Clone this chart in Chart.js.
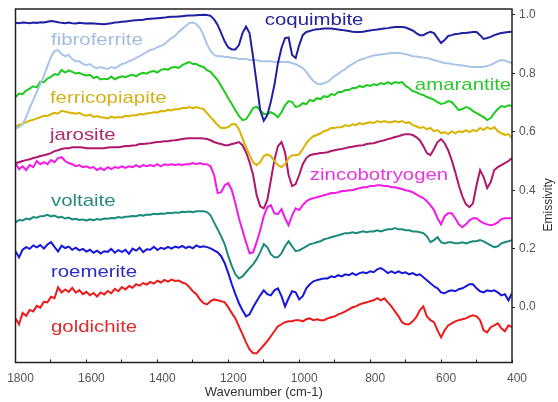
<!DOCTYPE html>
<html>
<head>
<meta charset="utf-8">
<script src="https://cdn.jsdelivr.net/npm/chart.js@4.4.1/dist/chart.umd.min.js"></script>
<style>
  html, body { margin: 0; padding: 0; background: #fff; }
  #wrap { width: 558px; height: 402px; position: relative; }
</style>
</head>
<body>
<div id="wrap"><canvas id="spectra"></canvas></div>
<script>
// wavenumber grid (cm-1), read every 10 cm-1
const wavenumbers = [
  1800,1790,1780,1770,1760,1750,1740,1730,1720,1710,
  1700,1690,1680,1670,1660,1650,1640,1630,1620,1610,
  1600,1590,1580,1570,1560,1550,1540,1530,1520,1510,
  1500,1490,1480,1470,1460,1450,1440,1430,1420,1410,
  1400,1390,1380,1370,1360,1350,1340,1330,1320,1310,
  1300,1290,1280,1270,1260,1250,1240,1230,1220,1210,
  1200,1190,1180,1170,1160,1150,1140,1130,1120,1110,
  1100,1090,1080,1070,1060,1050,1040,1030,1020,1010,
  1000,990,980,970,960,950,940,930,920,910,
  900,890,880,870,860,850,840,830,820,810,
  800,790,780,770,760,750,740,730,720,710,
  700,690,680,670,660,650,640,630,620,610,
  600,590,580,570,560,550,540,530,520,510,
  500,490,480,470,460,450,440,430,420,410,
  400
];

// emissivity (offset spectra), same order as wavenumbers
const coquimbite = [
  0.973,0.972,0.974,0.973,0.972,0.974,0.973,0.975,0.974,0.977,
  0.979,0.978,0.975,0.973,0.972,0.974,0.972,0.971,0.973,0.972,
  0.971,0.972,0.971,0.970,0.969,0.968,0.970,0.972,0.974,0.975,
  0.977,0.978,0.979,0.981,0.982,0.983,0.984,0.986,0.987,0.988,
  0.989,0.990,0.991,0.993,0.994,0.994,0.995,0.996,0.997,0.998,
  0.998,0.999,1.000,1.001,1.000,0.997,0.985,0.966,0.938,0.909,
  0.889,0.882,0.882,0.897,0.938,0.960,0.938,0.856,0.767,0.674,
  0.638,0.657,0.703,0.760,0.835,0.887,0.921,0.923,0.863,0.853,
  0.897,0.931,0.942,0.945,0.949,0.951,0.952,0.954,0.954,0.954,
  0.952,0.950,0.949,0.947,0.945,0.943,0.942,0.942,0.943,0.945,
  0.947,0.949,0.950,0.952,0.954,0.955,0.957,0.959,0.959,0.959,
  0.957,0.952,0.947,0.938,0.931,0.931,0.938,0.942,0.938,0.921,
  0.904,0.914,0.928,0.931,0.935,0.936,0.938,0.938,0.940,0.942,
  0.942,0.931,0.918,0.921,0.925,0.931,0.935,0.938,0.940,0.942,
  0.943
];
const fibroferrite = [
  0.612,0.616,0.626,0.650,0.681,0.709,0.736,0.763,0.791,0.825,
  0.856,0.877,0.880,0.866,0.859,0.863,0.849,0.842,0.842,0.832,
  0.829,0.832,0.822,0.818,0.822,0.818,0.815,0.822,0.818,0.825,
  0.832,0.835,0.842,0.846,0.853,0.859,0.866,0.873,0.880,0.883,
  0.890,0.894,0.900,0.911,0.921,0.928,0.942,0.952,0.962,0.973,
  0.974,0.969,0.955,0.931,0.900,0.877,0.863,0.859,0.859,0.856,
  0.856,0.853,0.853,0.849,0.849,0.849,0.846,0.846,0.846,0.842,
  0.842,0.842,0.842,0.839,0.839,0.839,0.839,0.839,0.835,0.832,
  0.825,0.818,0.805,0.788,0.774,0.765,0.763,0.767,0.771,0.781,
  0.791,0.798,0.808,0.815,0.825,0.832,0.839,0.846,0.849,0.854,
  0.858,0.861,0.863,0.865,0.866,0.868,0.870,0.870,0.870,0.868,
  0.866,0.863,0.859,0.858,0.856,0.854,0.853,0.849,0.846,0.842,
  0.839,0.835,0.835,0.832,0.830,0.829,0.827,0.825,0.823,0.822,
  0.822,0.822,0.823,0.825,0.829,0.835,0.842,0.846,0.844,0.839,
  0.835
];
const amarantite = [
  0.719,0.731,0.729,0.741,0.748,0.756,0.752,0.771,0.770,0.782,
  0.788,0.798,0.795,0.812,0.803,0.810,0.805,0.800,0.802,0.796,
  0.793,0.795,0.784,0.789,0.779,0.782,0.780,0.789,0.780,0.786,
  0.790,0.787,0.792,0.796,0.790,0.798,0.802,0.799,0.806,0.808,
  0.803,0.812,0.815,0.813,0.820,0.822,0.819,0.828,0.834,0.839,
  0.832,0.832,0.825,0.822,0.811,0.805,0.791,0.777,0.757,0.736,
  0.715,0.695,0.674,0.654,0.640,0.643,0.661,0.681,0.686,0.674,
  0.661,0.661,0.667,0.661,0.650,0.667,0.691,0.705,0.702,0.685,
  0.688,0.698,0.695,0.709,0.705,0.715,0.712,0.722,0.719,0.729,
  0.726,0.736,0.736,0.743,0.743,0.750,0.750,0.757,0.753,0.760,
  0.757,0.763,0.760,0.767,0.763,0.770,0.763,0.770,0.767,0.770,
  0.757,0.750,0.739,0.736,0.729,0.726,0.719,0.715,0.709,0.702,
  0.695,0.698,0.705,0.702,0.688,0.674,0.678,0.685,0.681,0.671,
  0.664,0.657,0.650,0.640,0.647,0.664,0.678,0.688,0.685,0.691,
  0.688
];
const ferricopiapite = [
  0.616,0.624,0.627,0.633,0.638,0.641,0.646,0.650,0.655,0.654,
  0.660,0.665,0.662,0.672,0.669,0.666,0.664,0.662,0.665,0.658,
  0.655,0.659,0.651,0.654,0.650,0.649,0.646,0.652,0.648,0.651,
  0.649,0.655,0.653,0.657,0.656,0.661,0.659,0.663,0.664,0.667,
  0.666,0.671,0.670,0.675,0.673,0.678,0.677,0.682,0.681,0.685,
  0.681,0.685,0.681,0.678,0.664,0.650,0.637,0.623,0.613,0.613,
  0.616,0.626,0.626,0.609,0.578,0.547,0.520,0.496,0.486,0.496,
  0.517,0.523,0.517,0.500,0.486,0.479,0.489,0.510,0.520,0.520,
  0.523,0.541,0.561,0.575,0.585,0.589,0.595,0.602,0.606,0.613,
  0.613,0.616,0.616,0.623,0.619,0.626,0.623,0.630,0.626,0.630,
  0.633,0.630,0.637,0.633,0.637,0.633,0.633,0.637,0.633,0.637,
  0.630,0.633,0.623,0.619,0.613,0.616,0.609,0.613,0.602,0.606,
  0.595,0.599,0.592,0.602,0.595,0.602,0.599,0.606,0.599,0.606,
  0.602,0.613,0.606,0.616,0.609,0.616,0.602,0.595,0.589,0.592,
  0.578
];
const jarosite = [
  0.493,0.496,0.500,0.503,0.506,0.510,0.513,0.517,0.520,0.523,
  0.527,0.534,0.537,0.541,0.544,0.544,0.547,0.547,0.547,0.546,
  0.544,0.544,0.544,0.544,0.544,0.544,0.546,0.547,0.547,0.547,
  0.549,0.551,0.551,0.553,0.554,0.558,0.558,0.560,0.561,0.563,
  0.565,0.566,0.568,0.568,0.570,0.571,0.573,0.575,0.577,0.578,
  0.578,0.578,0.578,0.577,0.575,0.571,0.565,0.561,0.558,0.554,
  0.554,0.558,0.561,0.565,0.554,0.530,0.496,0.452,0.383,0.345,
  0.338,0.366,0.434,0.503,0.551,0.565,0.530,0.452,0.414,0.421,
  0.452,0.489,0.510,0.520,0.523,0.525,0.527,0.528,0.530,0.534,
  0.537,0.539,0.541,0.544,0.547,0.549,0.551,0.553,0.554,0.558,
  0.560,0.561,0.565,0.568,0.571,0.575,0.578,0.582,0.585,0.589,
  0.592,0.592,0.589,0.582,0.571,0.551,0.527,0.520,0.541,0.565,
  0.575,0.561,0.537,0.503,0.462,0.417,0.379,0.352,0.342,0.355,
  0.417,0.469,0.445,0.407,0.428,0.469,0.479,0.486,0.493,0.500,
  0.510
];
const zincobotryogen = [
  0.493,0.472,0.482,0.469,0.486,0.479,0.500,0.489,0.496,0.489,
  0.503,0.496,0.510,0.513,0.500,0.493,0.489,0.482,0.486,0.479,
  0.482,0.476,0.479,0.469,0.476,0.469,0.479,0.472,0.479,0.476,
  0.482,0.476,0.482,0.479,0.486,0.479,0.486,0.482,0.486,0.482,
  0.489,0.482,0.489,0.486,0.489,0.486,0.489,0.486,0.489,0.489,
  0.493,0.489,0.493,0.489,0.489,0.482,0.452,0.390,0.393,0.417,
  0.424,0.400,0.355,0.304,0.263,0.222,0.184,0.187,0.222,0.263,
  0.311,0.342,0.349,0.321,0.318,0.335,0.304,0.280,0.314,0.338,
  0.332,0.349,0.362,0.369,0.373,0.376,0.379,0.383,0.386,0.390,
  0.390,0.393,0.397,0.397,0.400,0.400,0.404,0.407,0.410,0.410,
  0.414,0.414,0.417,0.417,0.414,0.414,0.410,0.410,0.407,0.404,
  0.400,0.397,0.393,0.386,0.379,0.373,0.362,0.349,0.332,0.304,
  0.283,0.311,0.321,0.321,0.304,0.283,0.273,0.283,0.297,0.304,
  0.304,0.294,0.287,0.283,0.280,0.283,0.290,0.301,0.304,0.304,
  0.304
];
const voltaite = [
  0.290,0.298,0.296,0.303,0.300,0.308,0.306,0.311,0.312,0.316,
  0.310,0.313,0.307,0.309,0.303,0.306,0.300,0.302,0.298,0.300,
  0.296,0.300,0.297,0.301,0.299,0.303,0.302,0.305,0.304,0.308,
  0.306,0.309,0.310,0.312,0.311,0.315,0.313,0.317,0.316,0.319,
  0.318,0.320,0.319,0.323,0.321,0.324,0.323,0.326,0.325,0.327,
  0.325,0.328,0.328,0.328,0.325,0.314,0.290,0.266,0.242,0.215,
  0.174,0.140,0.112,0.098,0.105,0.119,0.133,0.146,0.164,0.187,
  0.215,0.205,0.181,0.170,0.170,0.184,0.208,0.225,0.208,0.191,
  0.194,0.201,0.208,0.215,0.218,0.222,0.225,0.232,0.235,0.239,
  0.242,0.246,0.249,0.253,0.253,0.256,0.253,0.256,0.259,0.256,
  0.259,0.259,0.263,0.259,0.263,0.266,0.266,0.270,0.266,0.266,
  0.263,0.263,0.259,0.259,0.256,0.253,0.242,0.222,0.229,0.239,
  0.222,0.218,0.222,0.222,0.218,0.218,0.222,0.218,0.222,0.225,
  0.225,0.229,0.225,0.218,0.211,0.205,0.208,0.218,0.222,0.225,
  0.229
];
const roemerite = [
  0.191,0.170,0.196,0.205,0.199,0.211,0.204,0.212,0.200,0.214,
  0.222,0.206,0.190,0.210,0.202,0.207,0.196,0.203,0.194,0.199,
  0.190,0.196,0.186,0.193,0.183,0.191,0.189,0.199,0.186,0.195,
  0.189,0.196,0.182,0.200,0.193,0.203,0.188,0.198,0.196,0.206,
  0.195,0.203,0.199,0.206,0.200,0.207,0.203,0.209,0.202,0.207,
  0.201,0.211,0.205,0.208,0.205,0.201,0.194,0.187,0.174,0.150,
  0.116,0.078,0.044,0.013,-0.011,-0.032,-0.025,-0.001,0.020,0.040,
  0.057,0.044,0.040,0.057,0.064,0.037,0.002,0.030,0.054,0.050,
  0.026,0.037,0.064,0.078,0.088,0.092,0.095,0.098,0.098,0.105,
  0.102,0.109,0.105,0.112,0.109,0.116,0.109,0.116,0.119,0.116,
  0.122,0.119,0.129,0.133,0.126,0.116,0.122,0.116,0.122,0.116,
  0.119,0.112,0.116,0.109,0.112,0.102,0.092,0.081,0.071,0.064,
  0.050,0.047,0.054,0.057,0.054,0.061,0.064,0.071,0.078,0.078,
  0.064,0.054,0.050,0.057,0.054,0.057,0.050,0.040,0.044,0.023,
  0.047
];
const goldichite = [
  -0.039,-0.059,-0.020,-0.030,-0.010,-0.015,0.004,-0.002,0.018,0.016,
  0.035,0.030,0.068,0.050,0.060,0.052,0.066,0.049,0.058,0.044,
  0.052,0.040,0.048,0.036,0.050,0.043,0.055,0.047,0.062,0.054,
  0.068,0.060,0.072,0.066,0.078,0.073,0.082,0.077,0.086,0.080,
  0.090,0.084,0.093,0.087,0.094,0.089,0.091,0.084,0.080,0.068,
  0.054,0.044,0.026,0.013,0.009,0.020,0.026,0.023,0.020,0.016,
  -0.001,-0.021,-0.039,-0.066,-0.093,-0.121,-0.145,-0.158,-0.158,-0.145,
  -0.131,-0.117,-0.100,-0.083,-0.066,-0.059,-0.052,-0.049,-0.049,-0.045,
  -0.045,-0.049,-0.042,-0.039,-0.045,-0.042,-0.045,-0.045,-0.039,-0.035,
  -0.032,-0.025,-0.021,-0.015,-0.008,-0.001,0.002,0.009,0.013,0.016,
  0.020,0.023,0.030,0.023,0.030,0.016,0.002,-0.015,-0.032,-0.052,
  -0.059,-0.059,-0.049,-0.035,-0.011,0.002,-0.032,-0.045,-0.052,-0.080,
  -0.104,-0.080,-0.063,-0.056,-0.049,-0.045,-0.042,-0.039,-0.032,-0.028,
  -0.032,-0.045,-0.080,-0.087,-0.069,-0.063,-0.056,-0.073,-0.083,-0.063,
  -0.069
];

// axis ticks
const xTickValues = [1800,1700,1600,1500,1400,1300,1200,1100,1000,900,800,700,600,500,400];
const yTickValues = [0, 0.2, 0.4, 0.6, 0.8, 1.0];

// name, data, line colour, label colour, label anchor (wavenumber, emissivity)
const series = [
  { name: 'coquimbite',     data: coquimbite,     color: '#2020a2', text: '#26269c', at: [1097, 0.966] },
  { name: 'fibroferrite',   data: fibroferrite,   color: '#a9c4e8', text: '#a3bde0', at: [1700, 0.897] },
  { name: 'amarantite',     data: amarantite,     color: '#1fca1f', text: '#2ec82e', at: [674, 0.743] },
  { name: 'ferricopiapite', data: ferricopiapite, color: '#d8b300', text: '#d4b11c', at: [1703, 0.699] },
  { name: 'jarosite',       data: jarosite,       color: '#b0176c', text: '#ad2a6c', at: [1703, 0.572] },
  { name: 'zincobotryogen', data: zincobotryogen, color: '#f21ae6', text: '#e43ae0', at: [970, 0.435] },
  { name: 'voltaite',       data: voltaite,       color: '#1b8a7b', text: '#2a8a80', at: [1700, 0.346] },
  { name: 'roemerite',      data: roemerite,      color: '#1616dc', text: '#2c2ccc', at: [1700, 0.104] },
  { name: 'goldichite',     data: goldichite,     color: '#ec1a1a', text: '#e02c2c', at: [1700, -0.084] }
];

const FONT = "'Liberation Sans', Arial, sans-serif";

// frame round the plot, mineral names and the right-hand title
const decorations = {
  id: 'decorations',
  afterDatasetsDraw(chart) {
    const {ctx, chartArea: a, scales: {x, y}} = chart;
    ctx.save();
    ctx.strokeStyle = '#222';
    ctx.lineWidth = 1.5;
    ctx.strokeRect(a.left, a.top, a.right - a.left, a.bottom - a.top);

    ctx.font = '17px ' + FONT;
    ctx.textBaseline = 'alphabetic';
    ctx.textAlign = 'left';
    series.forEach(s => {
      const px = x.getPixelForValue(s.at[0]);
      const py = y.getPixelForValue(s.at[1]);
      ctx.save();
      ctx.translate(px, py);
      ctx.scale(1.2, 1);
      ctx.fillStyle = s.text;
      ctx.fillText(s.name, 0, 0);
      ctx.restore();
    });

    ctx.translate(549, (y.getPixelForValue(0.4) + y.getPixelForValue(0.3)) / 2);
    ctx.rotate(-Math.PI / 2);
    ctx.font = '12px ' + FONT;
    ctx.fillStyle = '#333';
    ctx.textAlign = 'center';
    ctx.textBaseline = 'middle';
    ctx.fillText('Emissivity', 0, 0);
    ctx.restore();
  }
};

new Chart(document.getElementById('spectra'), {
  type: 'line',
  data: {
    labels: wavenumbers,
    datasets: series.map(s => ({
      label: s.name,
      data: s.data,
      borderColor: s.color,
      borderWidth: 2,
      pointRadius: 0,
      tension: 0,
      fill: false
    }))
  },
  options: {
    responsive: true,
    maintainAspectRatio: false,
    animation: false,
    layout: { padding: { left: 15.5, top: 9, right: 0, bottom: 0 } },
    plugins: { legend: { display: false }, tooltip: { enabled: false } },
    scales: {
      x: {
        type: 'linear',
        reverse: true,
        min: 400,
        max: 1800,
        afterBuildTicks: s => { s.ticks = xTickValues.map(v => ({ value: v })); },
        afterFit: s => { s.height = 39.5; s.paddingLeft = 0; s.paddingRight = 0; },
        border: { display: false },
        grid: { drawOnChartArea: false, drawTicks: true, tickLength: -3, color: '#222', lineWidth: 1 },
        ticks: {
          autoSkip: false,
          maxRotation: 0,
          padding: 12,
          labelOffset: 5,
          color: '#555',
          font: { family: FONT, size: 12 },
          callback: v => (v % 200 === 0 ? String(v) : '')
        },
        title: {
          display: true,
          text: 'Wavenumber (cm-1)',
          color: '#333',
          font: { family: FONT, size: 13 },
          padding: { top: 0, bottom: 2 }
        }
      },
      y: {
        position: 'right',
        min: -0.19,
        max: 1.0205,
        afterBuildTicks: s => { s.ticks = yTickValues.map(v => ({ value: v })); },
        afterFit: s => { s.width = 46; s.paddingTop = 0; s.paddingBottom = 0; },
        border: { display: false },
        grid: { drawOnChartArea: false, drawTicks: true, tickLength: 3, color: '#222', lineWidth: 1 },
        ticks: {
          padding: 4,
          color: '#555',
          font: { family: FONT, size: 12 },
          callback: v => v.toFixed(1)
        }
      }
    }
  },
  plugins: [decorations]
});
</script>
</body>
</html>
